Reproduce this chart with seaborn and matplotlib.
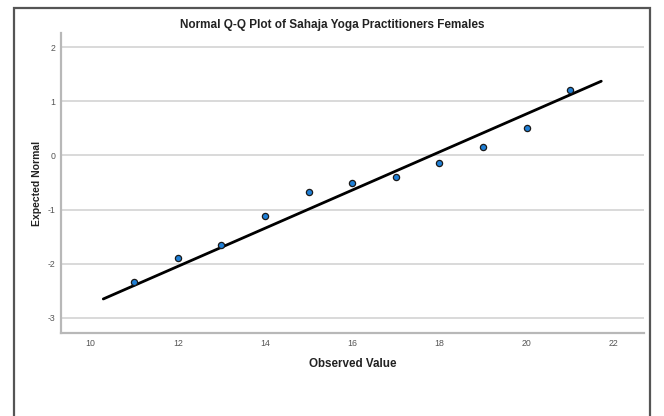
import numpy as np
import pandas as pd
import matplotlib
matplotlib.use("Agg")
import matplotlib.pyplot as plt
from matplotlib.patches import Rectangle
import seaborn as sns

# Observed scores and their expected normal quantiles
observed = [11, 12, 13, 14, 15, 16, 17, 18, 19, 20, 21]
expected = [-2.34, -1.89, -1.66, -1.12, -0.68, -0.51, -0.39, -0.14, 0.15, 0.50, 1.20]

# Reference normal line: z = (x - mean) / sd
sample_mean = 17.82
sample_sd = 2.84
line_x = [10.29, 21.71]

x_ticks = [10, 12, 14, 16, 18, 20, 22]
y_ticks = [-3, -2, -1, 0, 1, 2]

title = "Normal Q-Q Plot of Sahaja Yoga Practitioners Females"
x_label = "Observed Value"
y_label = "Expected Normal"

sns.set_theme(style="white")
plt.rcParams["font.family"] = ["Liberation Sans", "DejaVu Sans"]
plt.rcParams["axes.unicode_minus"] = False

df = pd.DataFrame({"observed": observed, "expected": expected})
line_df = pd.DataFrame({"x": line_x})
line_df["z"] = (line_df["x"] - sample_mean) / sample_sd

fig = plt.figure(figsize=(6.64, 4.16), dpi=100)
ax = fig.add_axes([61 / 664, 1 - 333 / 416, (644 - 61) / 664, (333 - 33) / 416])

for t in y_ticks:
    ax.axhline(t, color="#d9d9d9", lw=1.4, zorder=0)

sns.lineplot(data=line_df, x="x", y="z", ax=ax, color="black", lw=2.0, zorder=2)
sns.scatterplot(data=df, x="observed", y="expected", ax=ax, color="#1f7fd6",
                edgecolor="#1a1a1a", linewidth=0.9, s=20, zorder=3)

ax.set_xlim(9.32, 22.69)
ax.set_ylim(-3.28, 2.26)
ax.set_xticks(x_ticks)
ax.set_yticks(y_ticks)
ax.tick_params(axis="both", length=0, labelsize=6.3, colors="#555555")
ax.tick_params(axis="y", pad=4)
ax.tick_params(axis="x", pad=4.5)

for side in ("top", "right"):
    ax.spines[side].set_visible(False)
for side in ("left", "bottom"):
    ax.spines[side].set_color("#b8b8b8")
    ax.spines[side].set_linewidth(1.6)

ax.set_xlabel(x_label, fontsize=8.4, fontweight="bold", color="#222222", labelpad=7)
ax.set_ylabel(y_label, fontsize=7.5, fontweight="bold", color="#222222", labelpad=4)

fig.text(332 / 664, 1 - 25 / 416, title, ha="center", va="center",
         fontsize=8.5, fontweight="bold", color="#222222")

# Outer chart frame
frame = Rectangle((14 / 664, -0.05), (650 - 14) / 664, 1.05 - 8 / 416,
                  transform=fig.transFigure, fill=False,
                  edgecolor="#555555", lw=1.6, zorder=10)
fig.patches.append(frame)

fig.savefig("out.png", dpi=100)
